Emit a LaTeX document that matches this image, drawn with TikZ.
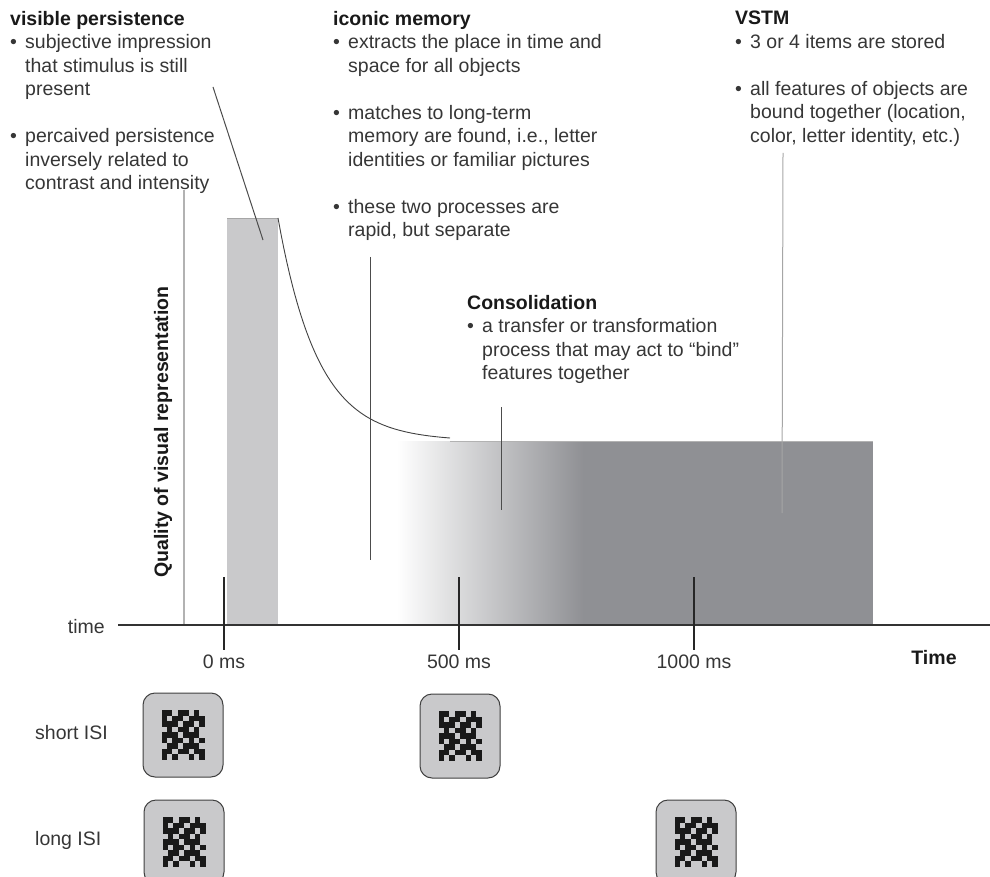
\documentclass[tikz,border=0pt]{standalone}
\usepackage{fontspec}
\setmainfont{Liberation Sans}
\usetikzlibrary{positioning}

\definecolor{stimgray}{HTML}{C9C9CB}
\definecolor{vstmgray}{HTML}{8F9094}
\definecolor{inkgray}{HTML}{363636}

\newcommand{\itm}{\makebox[15pt][l]{\textbullet}}
\newcommand{\hng}{\hspace*{15pt}}
\newcommand{\maskpattern}[1]{%
  \begin{scope}[shift={(#1)}]
    \foreach [count=\r] \bits in {{1,1,0,1,1,0,1,0},{1,0,1,1,0,1,1,1},{1,1,1,0,1,1,0,1},
        {0,1,0,1,1,0,1,0},{1,1,1,0,1,1,1,0},{1,0,1,1,0,1,0,1},{0,1,1,0,1,1,1,0},
        {1,1,0,1,1,0,1,1},{1,0,1,0,0,1,0,1}}
      \foreach [count=\c] \b in \bits
        {\ifnum\b=1 \fill[black!90] ({-21.5+(\c-1)*5.4},{-24.75+(\r-1)*5.5}) rectangle ++(5.4,5.5);\fi}
  \end{scope}}

\tikzset{
  blurb/.style={anchor=north west, align=left, inner sep=0pt,
    font=\fontsize{19.5}{23.5}\selectfont, text=inkgray},
  lbl/.style={inner sep=0pt, font=\fontsize{19.5}{23.5}\selectfont, text=inkgray},
  hd/.style={inner sep=0pt, font=\fontsize{19.5}{23.5}\selectfont\bfseries, text=black!90},
  pointer/.style={draw=black!70, line width=1pt},
  tickmark/.style={draw=black!85, line width=1.2pt},
  maskbox/.style={draw=black!75, line width=1pt, fill=stimgray, rounded corners=12pt,
    minimum width=80pt, minimum height=84pt, inner sep=0pt},
}

\begin{document}
\begin{tikzpicture}[x=1pt, y=-1pt]
    \useasboundingbox (0,0) rectangle (990,877);

    % stimulus and representation
    \fill[stimgray] (227,218) rectangle (278,625);
    \draw[black!35, line width=.8pt] (227,218) -- (278,218);
    \shade[left color=white, right color=vstmgray] (397,441) rectangle (583.5,625);
    \fill[vstmgray] (583,441) rectangle (873,625);
    \draw[black!30, line width=1pt] (450,441) -- (873,441);
    \draw[black!75, line width=.9pt] plot[domain=278:450, samples=60, smooth]
        (\x,{441-223*exp(-(\x-278)/40)});

    % axes
    \coordinate (ytop) at (184,190);
    \coordinate (ybot) at (184,625);
    \draw[black!30, line width=1.2pt] (ytop) -- (ybot);
    \coordinate (axstart) at (118,625);
    \coordinate (axend) at (990,625);
    \draw[black!80, line width=1.6pt] (axstart) -- (axend);
    \node[lbl, anchor=east] (timelbl) at (105,627) {time};
    \node[hd] (timeaxis) at (934,658) {Time};
    \node[hd, rotate=90] (quality) at (163,432) {Quality of visual representation};

    \foreach \name/\xpos/\txt in {tzero/224/0 ms, tfive/459/500 ms, tthou/694/1000 ms} {
        \coordinate (\name a) at (\xpos,577);
        \coordinate (\name b) at (\xpos,650);
        \draw[tickmark] (\name a) -- (\name b);
        \node[lbl, below=5pt of \name b] (\name lbl) {\txt};
    }

    % text blocks
    \node[blurb] (vispers) at (10,11) {{\bfseries\color{black!90}visible persistence}\\
        \itm subjective impression\\
        \hng that stimulus is still\\
        \hng present\\[23.5pt]
        \itm percaived persistence\\
        \hng inversely related to\\
        \hng contrast and intensity};
    \node[blurb] (iconic) at (333,11) {{\bfseries\color{black!90}iconic memory}\\
        \itm extracts the place in time and\\
        \hng space for all objects\\[23.5pt]
        \itm matches to long-term\\
        \hng memory are found, i.e., letter\\
        \hng identities or familiar pictures\\[23.5pt]
        \itm these two processes are\\
        \hng rapid, but separate};
    \node[blurb] (vstm) at (735,11) {{\bfseries\color{black!90}VSTM}\\
        \itm 3 or 4 items are stored\\[23.5pt]
        \itm all features of objects are\\
        \hng bound together (location,\\
        \hng color, letter identity, etc.)};
    \node[blurb] (consol) at (467,295) {{\bfseries\color{black!90}Consolidation}\\
        \itm a transfer or transformation\\
        \hng process that may act to “bind”\\
        \hng features together};

    % pointers
    \coordinate (vpa) at (213,87);
    \coordinate (vpb) at (263,240);
    \draw[pointer] (vpa) -- (vpb);
    \coordinate (ima) at (370,257);
    \coordinate (imb) at (370,560);
    \draw[pointer] (ima) -- (imb);
    \coordinate (coa) at (501,407);
    \coordinate (cob) at (501,510);
    \draw[pointer] (coa) -- (cob);
    \coordinate (vsa) at (783,153);
    \coordinate (vsb) at (782,513);
    \draw[pointer, draw=black!35] (vsa) -- (vsb);

    % masks
    \node[lbl, anchor=west] (shortisi) at (35,733) {short ISI};
    \node[lbl, anchor=west] (longisi) at (35,840) {long ISI};
    \node[maskbox] (shorta) at (183,735) {};
    \node[maskbox] (shortb) at (460,736) {};
    \node[maskbox] (longa) at (184,842) {};
    \node[maskbox] (longb) at (696,842) {};
    \maskpattern{shorta}
    \maskpattern{shortb}
    \maskpattern{longa}
    \maskpattern{longb}
\end{tikzpicture}
\end{document}
